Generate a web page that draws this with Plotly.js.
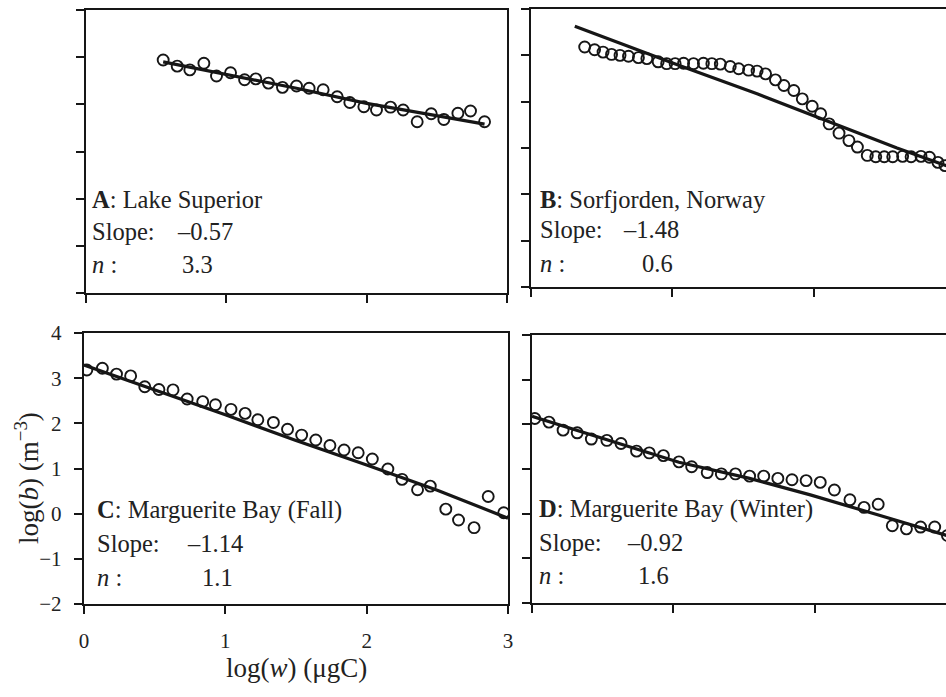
<!DOCTYPE html>
<html>
<head>
<meta charset="utf-8">
<script src="https://cdn.plot.ly/plotly-3.0.1.min.js"></script>
<style>html,body{margin:0;padding:0;background:#fff;}#chart{width:946px;height:697px;}</style>
</head>
<body>
<div id="chart"></div>
<script>
// ---------- DATA ----------
// Panel A: Lake Superior
const aX = [0.55,0.65,0.74,0.84,0.93,1.03,1.13,1.21,1.30,1.40,1.50,1.59,1.69,1.79,1.88,1.98,2.07,2.17,2.26,2.36,2.46,2.55,2.65,2.74,2.84];
const aY = [2.94,2.81,2.73,2.87,2.60,2.67,2.52,2.54,2.45,2.36,2.39,2.34,2.31,2.16,2.04,1.95,1.88,1.94,1.88,1.63,1.80,1.68,1.81,1.86,1.63];
const aFitX = [0.55,1.0,1.5,2.0,2.5,2.84];
const aFitY = [2.90,2.64,2.34,2.02,1.75,1.58];

// Panel B: Sorfjorden, Norway
const bX = [0.38,0.45,0.51,0.57,0.63,0.69,0.76,0.82,0.90,0.96,1.02,1.08,1.15,1.22,1.28,1.34,1.41,1.47,1.54,1.60,1.66,1.73,1.79,1.86,1.92,1.99,2.05,2.11,2.18,2.25,2.31,2.38,2.44,2.50,2.56,2.63,2.69,2.76,2.82,2.88,2.93];
const bY = [3.18,3.12,3.07,3.02,3.00,2.98,2.95,2.93,2.86,2.82,2.82,2.83,2.82,2.83,2.82,2.81,2.76,2.71,2.68,2.66,2.60,2.47,2.35,2.24,2.06,1.90,1.74,1.52,1.32,1.16,1.02,0.84,0.81,0.81,0.81,0.82,0.81,0.82,0.80,0.69,0.62];
const bFitX = [0.31,1.05,1.60,2.09,2.59,2.93,3.0];
const bFitY = [3.63,2.78,2.17,1.59,1.00,0.63,0.55];

// Panel C: Marguerite Bay (Fall)
const cX = [0.02,0.13,0.23,0.33,0.43,0.53,0.63,0.73,0.84,0.93,1.04,1.14,1.23,1.34,1.44,1.54,1.64,1.74,1.84,1.94,2.04,2.15,2.25,2.36,2.45,2.56,2.65,2.76,2.86,2.97];
const cY = [3.18,3.22,3.09,3.05,2.81,2.75,2.74,2.54,2.48,2.41,2.31,2.22,2.08,2.02,1.87,1.74,1.63,1.51,1.41,1.35,1.21,0.99,0.76,0.53,0.61,0.10,-0.14,-0.31,0.38,0.02];
const cFitX = [0.0,1.0,1.5,2.0,2.5,3.0];
const cFitY = [3.29,2.19,1.62,1.08,0.52,-0.10];

// Panel D: Marguerite Bay (Winter)
const dX = [0.02,0.12,0.22,0.32,0.42,0.53,0.63,0.74,0.83,0.93,1.04,1.13,1.24,1.34,1.44,1.54,1.64,1.74,1.84,1.94,2.04,2.14,2.25,2.35,2.45,2.55,2.65,2.75,2.85,2.94];
const dY = [2.13,2.05,1.87,1.81,1.67,1.64,1.57,1.40,1.36,1.30,1.16,1.05,0.92,0.89,0.89,0.84,0.84,0.79,0.76,0.74,0.70,0.53,0.31,0.14,0.21,-0.27,-0.34,-0.30,-0.30,-0.49];
const dFitX = [0.0,1.04,1.54,1.97,2.44,2.93,3.0];
const dFitY = [2.18,1.15,0.79,0.42,-0.02,-0.49,-0.55];

const yTickVals = [-2,-1,0,1,2,3,4];
const xTickVals = [0,1,2,3];

// Panel labels
const panelTitles = ["<b>A</b>: Lake Superior","<b>B</b>: Sorfjorden, Norway","<b>C</b>: Marguerite Bay (Fall)","<b>D</b>: Marguerite Bay (Winter)"];
const slopeTexts = ["–0.57","–1.48","–1.14","–0.92"];
const nTexts = ["3.3","0.6","1.1","1.6"];

// ---------- LAYOUT ----------
const W = 946, H = 697;
const FONT = "Liberation Serif, Times New Roman, serif";
const INK = "#161616";
const px = v => v / W;
const py = v => 1 - v / H;

function pts(x, y, xa, ya) {
  return {x: x, y: y, xaxis: xa, yaxis: ya, type: 'scatter', mode: 'markers', showlegend: false,
    marker: {symbol: 'circle-open', size: 11, color: INK, line: {width: 1.9, color: INK}}, hoverinfo: 'skip'};
}
function fit(x, y, xa, ya) {
  return {x: x, y: y, xaxis: xa, yaxis: ya, type: 'scatter', mode: 'lines', showlegend: false,
    line: {color: INK, width: 3.2}, hoverinfo: 'skip'};
}

const traces = [
  fit(aFitX, aFitY, 'x', 'y'), pts(aX, aY, 'x', 'y'),
  fit(bFitX, bFitY, 'x2', 'y2'), pts(bX, bY, 'x2', 'y2'),
  fit(cFitX, cFitY, 'x3', 'y3'), pts(cX, cY, 'x3', 'y3'),
  fit(dFitX, dFitY, 'x4', 'y4'), pts(dX, dY, 'x4', 'y4')
];

function xax(l, r, rangeMax, anchor, labels) {
  return {domain: [px(l), px(r)], range: [0, rangeMax], anchor: anchor,
    tickvals: xTickVals, ticktext: xTickVals.map(String), showticklabels: labels,
    ticks: 'outside', ticklen: 8, tickwidth: 2, tickcolor: INK,
    showline: true, linewidth: 2.2, linecolor: INK, mirror: true,
    showgrid: false, zeroline: false, ticklabelstandoff: 9,
    tickfont: {family: FONT, size: 21, color: '#222'}, fixedrange: true};
}
function yax(t, b, anchor, labels, mirror) {
  return {domain: [py(b), py(t)], range: [-2, 4], anchor: anchor,
    tickvals: yTickVals, ticktext: yTickVals.map(v => v < 0 ? '\u2212' + Math.abs(v) : String(v)),
    showticklabels: labels,
    ticks: 'outside', ticklen: 8, tickwidth: 2, tickcolor: INK,
    showline: true, linewidth: 2.2, linecolor: INK, mirror: mirror,
    showgrid: false, zeroline: false, ticklabelstandoff: 8,
    tickfont: {family: FONT, size: 21, color: '#222'}, fixedrange: true};
}

const pxPerUnit = 141.3;
const layout = {
  width: W, height: H, margin: {l: 0, r: 0, t: 0, b: 0},
  paper_bgcolor: '#fff', plot_bgcolor: 'rgba(0,0,0,0)',
  font: {family: FONT, color: '#222'},
  showlegend: false,
  xaxis:  xax(86, 507, 3, 'y', false),
  yaxis:  yax(10, 293, 'x', false, true),
  xaxis2: xax(531, 946, (946 - 531) / pxPerUnit, 'y2', false),
  yaxis2: yax(9, 287, 'x2', false, false),
  xaxis3: xax(84, 508, 3, 'y3', true),
  yaxis3: yax(333, 604, 'x3', true, true),
  xaxis4: xax(532, 946, (946 - 532) / pxPerUnit, 'y4', false),
  yaxis4: yax(335, 603, 'x4', false, false),
  annotations: []
};

function txt(xp, baseline, text) {
  layout.annotations.push({xref: 'paper', yref: 'paper', x: px(xp - 2), y: py(baseline - 8),
    xanchor: 'left', yanchor: 'middle', showarrow: false, text: text,
    font: {family: FONT, size: 24.5, color: '#222'}});
}
// label positions [left, baseline1, baseline2, baseline3, slopeX, nX]
const labPos = [
  [92, 208, 240, 272, 177, 182],
  [540, 207, 238, 271, 623, 642],
  [97, 518, 551, 585, 187, 202],
  [539, 517, 550, 583, 627, 638]
];
labPos.forEach((p, i) => {
  txt(p[0], p[1], panelTitles[i]);
  txt(p[0], p[2], 'Slope:');
  txt(p[4], p[2], slopeTexts[i]);
  txt(p[0], p[3], '<i>n</i> :');
  txt(p[5], p[3], nTexts[i]);
});

// axis titles
layout.annotations.push({xref: 'paper', yref: 'paper', x: px(296), y: py(668), xanchor: 'center', yanchor: 'middle',
  showarrow: false, text: 'log(<i>w</i>) (μgC)', font: {family: FONT, size: 27, color: '#222'}});
layout.annotations.push({xref: 'paper', yref: 'paper', x: px(27), y: py(478), xanchor: 'center', yanchor: 'middle',
  showarrow: false, textangle: -90, text: 'log(<i>b</i>) (m<sup>\u22123</sup>)', font: {family: FONT, size: 27, color: '#222'}});

Plotly.newPlot('chart', traces, layout, {displayModeBar: false, staticPlot: true});
</script>
</body>
</html>
